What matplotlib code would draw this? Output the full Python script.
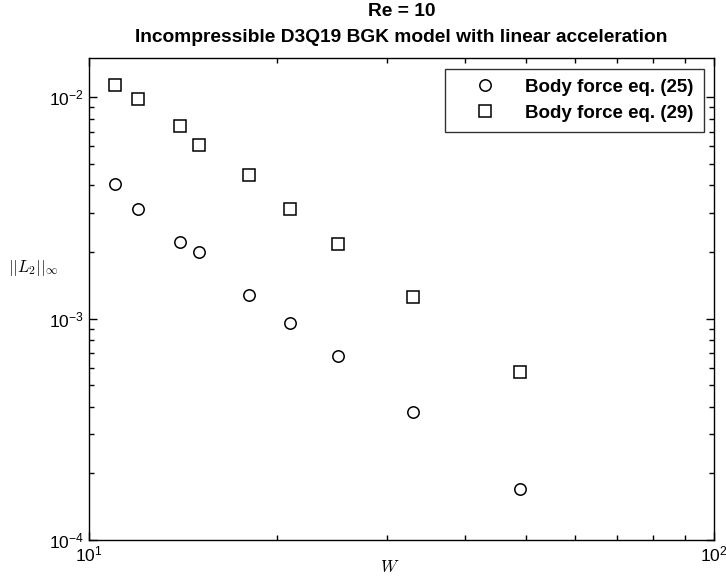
import matplotlib
matplotlib.use("Agg")
import matplotlib.pyplot as plt
from matplotlib.ticker import LogLocator, NullFormatter

W = [11, 12, 14, 15, 18, 21, 25, 33, 49]
err_eq25 = [0.00404, 0.00314, 0.00221, 0.00200, 0.00128, 0.000956, 0.000678, 0.000377, 0.000170]
err_eq29 = [0.01141, 0.00986, 0.00739, 0.00607, 0.00444, 0.00314, 0.00218, 0.00125, 0.000573]
labels = ["Body force eq. (25)", "Body force eq. (29)"]

plt.rcParams['font.family'] = ['Liberation Sans', 'DejaVu Sans']
plt.rcParams['mathtext.fontset'] = 'custom'
plt.rcParams['mathtext.rm'] = 'Liberation Sans'
plt.rcParams['mathtext.it'] = 'Liberation Sans:italic'
plt.rcParams['mathtext.bf'] = 'Liberation Sans:bold'

fig = plt.figure(figsize=(7.26, 5.8), dpi=100)
ax = fig.add_axes([89/726, 1-540/580, (714-89)/726, (540-58.3)/580])

ax.loglog(W, err_eq25, linestyle='none', marker='o', markersize=8.2,
          markerfacecolor='none', markeredgecolor='black', markeredgewidth=1.1, label=labels[0])
ax.loglog(W, err_eq29, linestyle='none', marker='s', markersize=8.6,
          markerfacecolor='none', markeredgecolor='black', markeredgewidth=1.1, label=labels[1])

ax.set_xlim(10, 100)
ax.set_ylim(1e-4, 1.5e-2)

ax.xaxis.set_major_locator(LogLocator(base=10, numticks=10))
ax.yaxis.set_major_locator(LogLocator(base=10, numticks=10))
ax.xaxis.set_minor_locator(LogLocator(base=10, subs=range(2, 10), numticks=10))
ax.yaxis.set_minor_locator(LogLocator(base=10, subs=range(2, 10), numticks=10))
ax.xaxis.set_minor_formatter(NullFormatter())
ax.yaxis.set_minor_formatter(NullFormatter())

ax.tick_params(which='both', direction='in', top=True, right=True, labelsize=12.5, width=1.0)
ax.tick_params(which='major', length=6)
ax.tick_params(which='minor', length=3.5)
for s in ax.spines.values():
    s.set_linewidth(1.0)

fig.text(0.5*(89+714)/726, 1-12/580, "Re = 10", fontsize=13.8, fontweight='bold',
         ha='center', va='center')
fig.text(0.5*(89+714)/726, 1-38/580, "Incompressible D3Q19 BGK model with linear acceleration",
         fontsize=13.8, fontweight='bold', ha='center', va='center')

fig.text(390/726, 1-567/580, r'$W$', fontsize=12, ha='center', va='center', math_fontfamily='cm')
fig.text(8/726, 1-268/580, r'$||L_2||_\infty$', fontsize=12, ha='left', va='center',
         math_fontfamily='cm')

leg = ax.legend(loc='upper right', prop={'weight': 'bold', 'size': 13.5}, frameon=True,
                fancybox=False, edgecolor='black', borderaxespad=0.55, handletextpad=0.6,
                handlelength=3.1, borderpad=0.55, labelspacing=0.45)
leg.get_frame().set_linewidth(1.0)

fig.savefig("out.png", dpi=100)
